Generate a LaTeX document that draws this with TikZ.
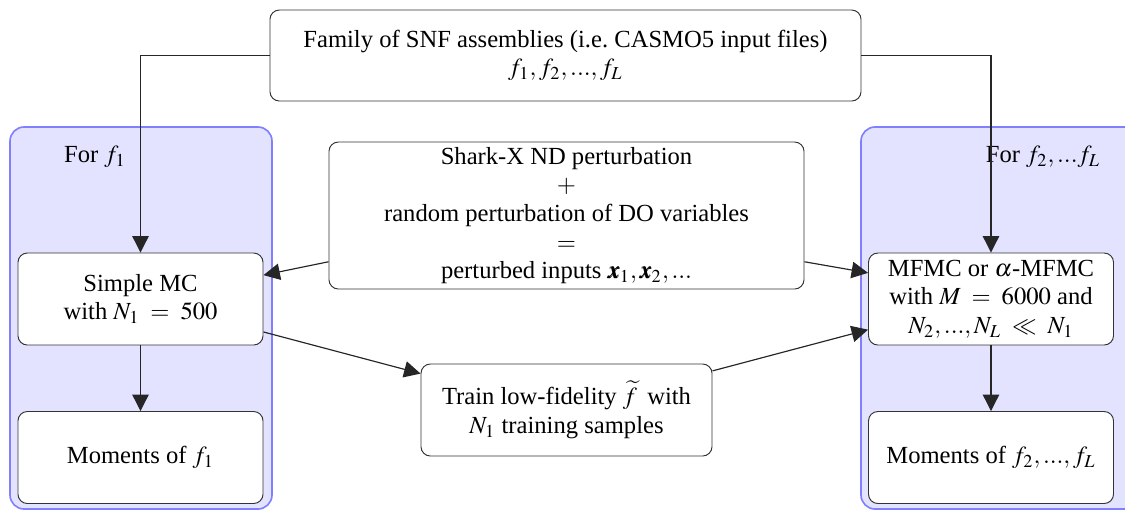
\documentclass[tikz,border=0pt]{standalone}
\usepackage{amsmath}
\usepackage{mathptmx}
\usepackage{fontspec}
\setmainfont{Liberation Serif}
\usepackage{bm}
\usepackage{tikz}
\usetikzlibrary{calc,arrows.meta,positioning}

\begin{document}
\begin{tikzpicture}[x=0.015cm,y=-0.015cm,font=\fontsize{10.5}{12.2}\selectfont,
		box/.style={draw=black!80,rounded corners=4pt,fill=white,align=center,
			minimum width=3.675cm,minimum height=1.38cm,inner sep=2pt},
		panel/.style={draw=blue!50,fill=blue!11,rounded corners=6pt,line width=0.7pt},
		arr/.style={-{Triangle[length=7pt,width=7pt]},black!85,line width=0.5pt}]
				\useasboundingbox (0,0) rectangle (1125,511);
				\clip (0,0) rectangle (1125,511);
				% background panels
				\draw[panel] (10,127) rectangle (272,509);
				\draw[panel] (861,127) rectangle (1140,509);
				\node (forone) at (95,157) {For $f_1$};
				\node (forrest) at (1043,157) {For $f_2,...f_L$};
				
				\node[box,minimum width=8.865cm,minimum height=1.365cm] (family) at (565.5,55.5)
				{Family of SNF assemblies (i.e.\ CASMO5 input files)\\ $f_1,f_2,...,f_L$};
				\node[box,minimum width=7.125cm,minimum height=2.205cm] (shark) at (566.5,215.5)
				{Shark-X ND perturbation\\ $+$\\ random perturbation of DO variables\\ $=$\\ perturbed inputs $\bm{x}_1,\bm{x}_2,...$};
				\node[box] (simple) at (140.5,299) {Simple MC\\ with $N_1\;=\;500$};
				\node[box] (momone) at (140.5,457.5) {Moments of $f_1$};
				\node[box] (mfmc) at (991,299) {MFMC or $\alpha$-MFMC\\ with $M\;=\;6000$ and\\ $N_2,...,N_L\;\ll\;N_1$};
				\node[box] (momrest) at (991,457.5) {Moments of $f_2,...,f_L$};
				\node[box,minimum width=4.365cm] (train) at (566.5,410)
				{Train low-fidelity $\widetilde{f}$\, with\\ $N_1$ training samples};
				
				\draw[arr] (family.west) -| (simple.north);
				\draw[arr] (family.east) -| (mfmc.north);
				\draw[arr] (shark.191) -- (simple.11);
				\draw[arr] (shark.-11) -- (mfmc.168);
				\draw[arr] (simple.south) -- (momone.north);
				\draw[arr] (mfmc.south) -- (momrest.north);
				\draw[arr] (simple.-15) -- (train.166);
				\draw[arr] (train.15) -- (mfmc.194);
			\end{tikzpicture}
\end{document}
